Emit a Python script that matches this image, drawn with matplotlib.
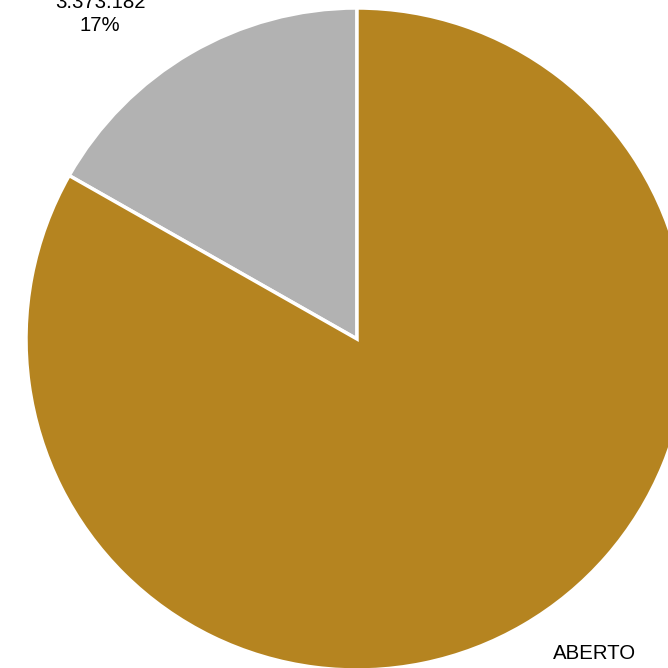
import matplotlib
matplotlib.use("Agg")
import matplotlib.pyplot as plt

categories = ["FECHADO", "ABERTO"]
values = [3373182, 16728450]
colors = ["#B2B2B2", "#B58420"]

plt.rcParams['font.family'] = ['Liberation Sans', 'DejaVu Sans']

fig = plt.figure(figsize=(6.68, 6.68), dpi=100)
ax = fig.add_axes([0, 0, 1, 1])
ax.pie(values, colors=colors, startangle=90, counterclock=True, radius=1,
       wedgeprops=dict(edgecolor="white", linewidth=2.5))

total = sum(values)
def label(i):
    v = values[i]
    return f"{categories[i]}\n{v:,}".replace(",", ".") + f"\n{round(100*v/total)}%"

ax.text(-0.776, 0.918, label(0), ha="center", va="bottom", fontsize=14.7,
        linespacing=1.25)
ax.text(0.719, -0.921, label(1), ha="center", va="top", fontsize=14.7,
        linespacing=1.25)

ax.set_xlim(-357/331, (668-357)/331)
ax.set_ylim(-(668-339)/331, 339/331)
ax.set_aspect("auto")
ax.axis("off")
fig.savefig("out.png", dpi=100)
